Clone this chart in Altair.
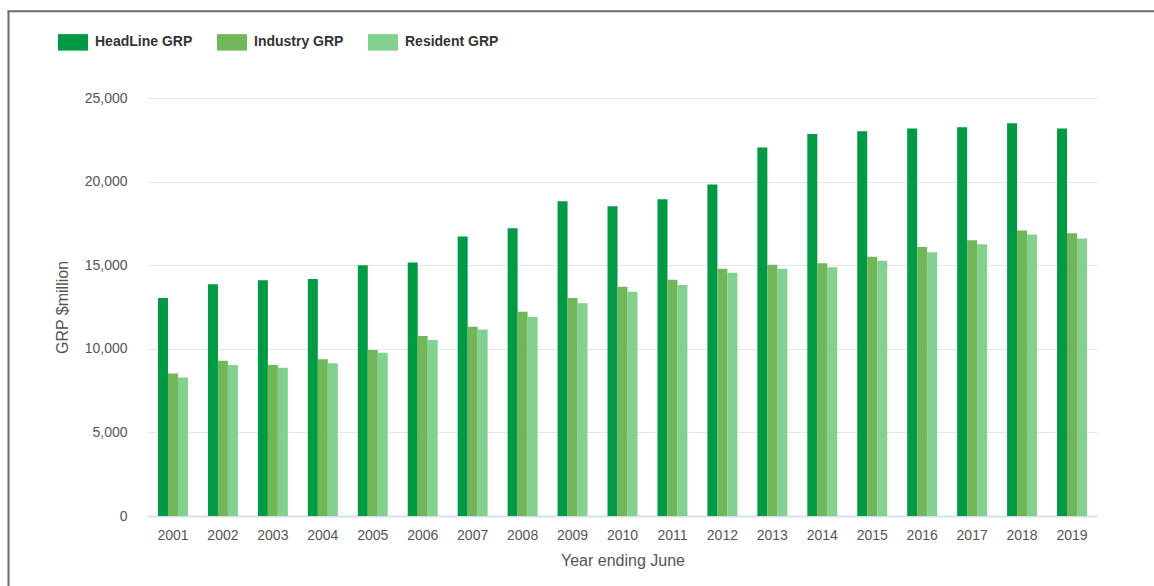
import altair as alt
import pandas as pd

years = ["2001", "2002", "2003", "2004", "2005", "2006", "2007", "2008", "2009", "2010",
         "2011", "2012", "2013", "2014", "2015", "2016", "2017", "2018", "2019"]
headline = [13040, 13860, 14100, 14180, 15000, 15160, 16710, 17210, 18830, 18520,
            18940, 19820, 22040, 22850, 23010, 23170, 23250, 23490, 23170]
industry = [8530, 9290, 9030, 9380, 9930, 10760, 11320, 12220, 13040, 13710,
            14130, 14790, 15030, 15110, 15510, 16090, 16490, 17070, 16910]
resident = [8290, 9030, 8870, 9130, 9770, 10520, 11160, 11900, 12720, 13410,
            13810, 14550, 14790, 14870, 15270, 15770, 16250, 16830, 16590]
series_names = ["HeadLine GRP", "Industry GRP", "Resident GRP"]
colors = ["#009a44", "#72b65a", "#83d18f"]
y_ticks = [0, 5000, 10000, 15000, 20000, 25000]

rows = []
for name, vals in zip(series_names, [headline, industry, resident]):
    for yr, v in zip(years, vals):
        rows.append({"year": yr, "series": name, "value": v})
df = pd.DataFrame(rows)

FONT = "Liberation Sans"

bars = alt.Chart(df).mark_bar().encode(
    x=alt.X("year:N", sort=years,
            scale=alt.Scale(paddingInner=0.4, paddingOuter=0.2),
            axis=alt.Axis(title="Year ending June", labelAngle=0, ticks=False,
                          domainColor="#d7dfec", domainWidth=2, grid=False,
                          labelFont=FONT, labelFontSize=14, labelColor="#555555",
                          labelPadding=12, titleFont=FONT, titleFontSize=16,
                          titleFontWeight="normal", titleColor="#555555",
                          titlePadding=10)),
    xOffset=alt.XOffset("series:N", sort=series_names),
    y=alt.Y("value:Q", scale=alt.Scale(domain=[0, 25000], nice=False),
            axis=alt.Axis(values=y_ticks, format=",d", title="GRP $million",
                          domain=False, ticks=False, gridColor="#e6e6e6",
                          labelFont=FONT, labelFontSize=14, labelColor="#555555",
                          labelPadding=21, titleFont=FONT, titleFontSize=16,
                          titleFontWeight="normal", titleColor="#555555",
                          titlePadding=14)),
    color=alt.Color("series:N", sort=series_names,
                    scale=alt.Scale(domain=series_names, range=colors),
                    legend=alt.Legend(title=None, orient="none", legendX=-90, legendY=-71,
                                      direction="horizontal",
                                      symbolType="M-1,-0.55H1V0.55H-1Z", symbolSize=900,
                                      symbolStrokeWidth=0, labelFont=FONT,
                                      labelFontSize=14, labelFontWeight="bold",
                                      labelColor="#333333", labelOffset=7,
                                      columnPadding=24)),
)

one = pd.DataFrame({"k": [0]})
left_edge = alt.Chart(one).mark_rule(color="#6b6b6b", strokeWidth=2).encode(
    x=alt.value(-139.5), y=alt.value(-87), y2=alt.value(500))
top_edge = alt.Chart(one).mark_rule(color="#6b6b6b", strokeWidth=2).encode(
    x=alt.value(-140.5), x2=alt.value(1010), y=alt.value(-86.7))

chart = alt.layer(bars, left_edge, top_edge).properties(
    width=949, height=418,
    padding={"left": 148, "top": 98, "right": 57, "bottom": 70},
    autosize=alt.AutoSizeParams(type="none"),
    background="white",
).configure_view(stroke=None)

chart.save("out.html", embed_options={"renderer": "svg", "actions": False})
